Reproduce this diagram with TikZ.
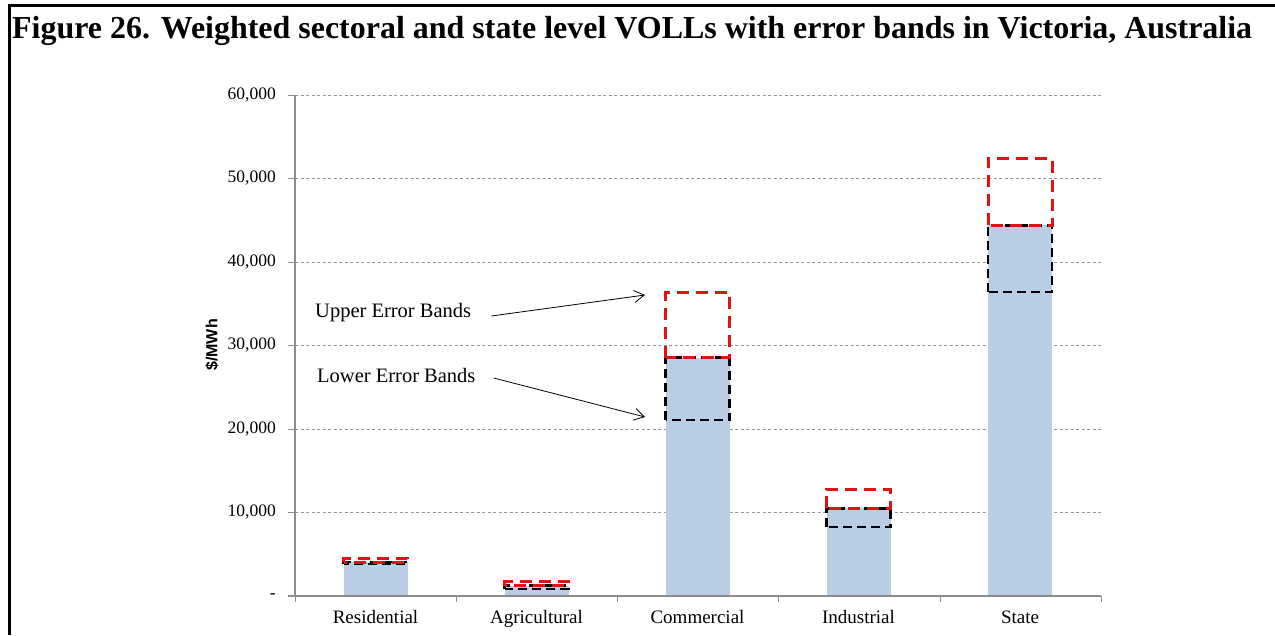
\documentclass[tikz,border=0pt]{standalone}
\usepackage{fontspec}
\setmainfont{Liberation Serif}
\newfontfamily\labsans{Liberation Sans}
\usetikzlibrary{arrows.meta}
\definecolor{barblue}{RGB}{185,205,228}
\definecolor{bandred}{RGB}{222,20,20}
\definecolor{gridgray}{RGB}{150,150,150}
\definecolor{axisgray}{RGB}{140,140,140}
\begin{document}
\begin{tikzpicture}[x=1pt,y=1pt,
  grid line/.style={gridgray, line width=0.8pt, dash pattern=on 3pt off 2.5pt},
  axis line/.style={axisgray, line width=1.3pt},
  barfill/.style={fill=barblue},
  upper band/.style={draw=bandred, line width=3pt, dash pattern=on 12pt off 7pt},
  lower band/.style={draw=black, line width=2.5pt, dash pattern=on 9pt off 5pt},
  ticklab/.style={anchor=east, font=\fontsize{17.5}{17.5}\selectfont, inner sep=0},
  catlab/.style={anchor=base, font=\fontsize{19}{19}\selectfont, inner sep=0},
  note/.style={font=\fontsize{20.5}{20.5}\selectfont, anchor=west, inner sep=0},
  pointer/.style={-{Straight Barb[length=10pt,width=12pt]}, line width=0.8pt}
]
\useasboundingbox (0,0) rectangle (1275,635);
% frame
\draw[line width=3pt, line join=miter] (9,0) -- (9,629) -- (1275,629);
% title
\node[anchor=west, inner sep=0] (title) at (12,604)
  {\resizebox{1240pt}{!}{\bfseries\fontsize{30}{30}\selectfont Figure 26. Weighted sectoral and state level VOLLs with error bands in Victoria, Australia}};
% y label
\node[rotate=90, inner sep=0, font=\labsans\bfseries\fontsize{16}{16}\selectfont] (ylab) at (212,290) {\$/MWh};
\begin{scope}[shift={(0,39)}, y=8.35pt]
  % grid
  \foreach \v in {10,20,30,40,50,60} {
    \draw[grid line] (295,\v) -- (1101,\v);
    \draw[axisgray, line width=0.8pt] (288,\v) -- (295,\v);
  }
  \foreach \v/\t in {60/{60,000},50/{50,000},40/{40,000},30/{30,000},20/{20,000},10/{10,000}}
    \node[ticklab] (yt\v) at (276,\v) {\t};
  \node[ticklab] (yt0) at (276,0) {-};
  % bars
  \foreach \c/\b/\lo/\up in {375.5/4.05/3.85/4.55, 536.5/1.25/0.85/1.70, 697.5/28.55/21.05/36.3, 858.5/10.5/8.25/12.8, 1020/44.4/36.4/52.4} {
    \fill[barfill] (\c-32,0) rectangle (\c+32,\b);
    \draw[lower band] (\c-32,\lo) rectangle (\c+32,\b);
    \draw[upper band] (\c-32,\b) rectangle (\c+32,\up);
  }
  % axes
  \draw[axis line] (295,0) -- (295,60);
  \draw[axis line] (288,0) -- (1101,0);
  \foreach \x in {295,456,617,778,940,1101}
    \draw[axisgray, line width=0.8pt] (\x,0) -- ++(0pt,-6pt);
\end{scope}
% category labels
\foreach \c/\n in {375.5/Residential, 536.5/Agricultural, 697.5/Commercial, 858.5/Industrial, 1020/State}
  \node[catlab] (cat\n) at (\c,12) {\n};
% annotations
\node[note] (upper) at (315,322) {Upper Error Bands};
\node[note] (lower) at (317,260) {Lower Error Bands};
\coordinate (uptip) at (645,340);
\coordinate (lowtip) at (645,218);
\draw[pointer] ([xshift=20pt,yshift=-3pt]upper.east) -- (uptip);
\draw[pointer] ([xshift=18pt,yshift=-3pt]lower.east) -- (lowtip);
\end{tikzpicture}
\end{document}
